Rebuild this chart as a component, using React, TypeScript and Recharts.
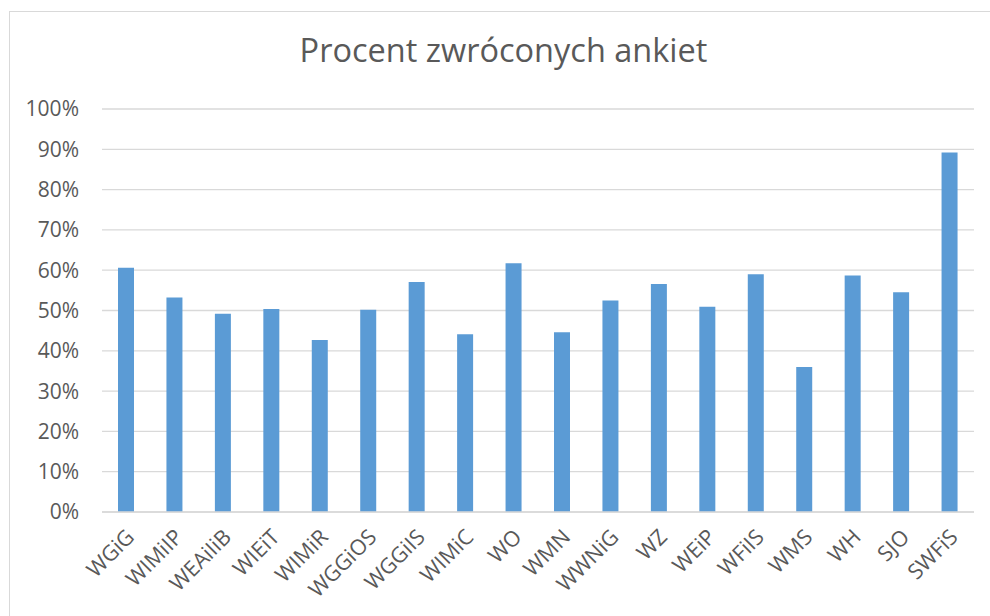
import { Bar, BarChart, CartesianGrid, XAxis, YAxis } from "recharts";

const categories = [
  "WGiG", "WIMiIP", "WEAiIiB", "WIEiT", "WIMiR", "WGGiOS", "WGGiIS", "WIMiC", "WO",
  "WMN", "WWNiG", "WZ", "WEiP", "WFiIS", "WMS", "WH", "SJO", "SWFiS",
];
const percents = [
  60.6, 53.2, 49.2, 50.4, 42.7, 50.2, 57.1, 44.1, 61.7,
  44.6, 52.5, 56.6, 50.9, 59.0, 36.0, 58.7, 54.5, 89.2,
];
const yTicks = [0, 10, 20, 30, 40, 50, 60, 70, 80, 90, 100];

const data = categories.map((name, i) => ({ name, value: percents[i] }));

const FONT = '"Open Sans", sans-serif';
const TEXT = "#595959";

function XTick({ x, y, payload }: any) {
  return (
    <g transform={`translate(${x - 2},${y + 7})`}>
      <text
        textAnchor="end"
        transform="rotate(-45)"
        dy="0.75em"
        fill={TEXT}
        fontSize={21.5}
        fontFamily={FONT}
      >
        {payload.value}
      </text>
    </g>
  );
}

export default function App() {
  return (
    <div style={{ position: "fixed", left: 0, top: 0, width: 990, height: 616, background: "#fff", overflow: "hidden" }}>
      <div
        style={{
          position: "absolute",
          left: 9,
          top: 11,
          width: 1000,
          height: 620,
          border: "1px solid #d9d9d9",
        }}
      />
      <div
        style={{
          position: "absolute",
          left: 0,
          width: 1007,
          top: 27,
          textAlign: "center",
          fontFamily: FONT,
          fontSize: 32.5,
          color: TEXT,
        }}
      >
        Procent zwróconych ankiet
      </div>
      <div style={{ position: "absolute", left: 0, top: 0 }}>
        <BarChart width={990} height={616} data={data} margin={{ top: 109, right: 16, bottom: 14, left: 0 }}>
          <CartesianGrid vertical={false} stroke="#d9d9d9" strokeWidth={1.3} />
          <XAxis
            dataKey="name"
            interval={0}
            height={90}
            tickLine={false}
            axisLine={{ stroke: "#d9d9d9", strokeWidth: 1.3 }}
            tick={<XTick />}
          />
          <YAxis
            width={102}
            domain={[0, 100]}
            ticks={yTicks}
            tickFormatter={(v) => `${v}%`}
            axisLine={false}
            tickLine={false}
            tickSize={0}
            tickMargin={23}
            tick={{ fill: TEXT, fontSize: 21, fontFamily: FONT }}
          />
          <Bar dataKey="value" fill="#5b9bd5" barSize={16} isAnimationActive={false} />
        </BarChart>
      </div>
    </div>
  );
}
